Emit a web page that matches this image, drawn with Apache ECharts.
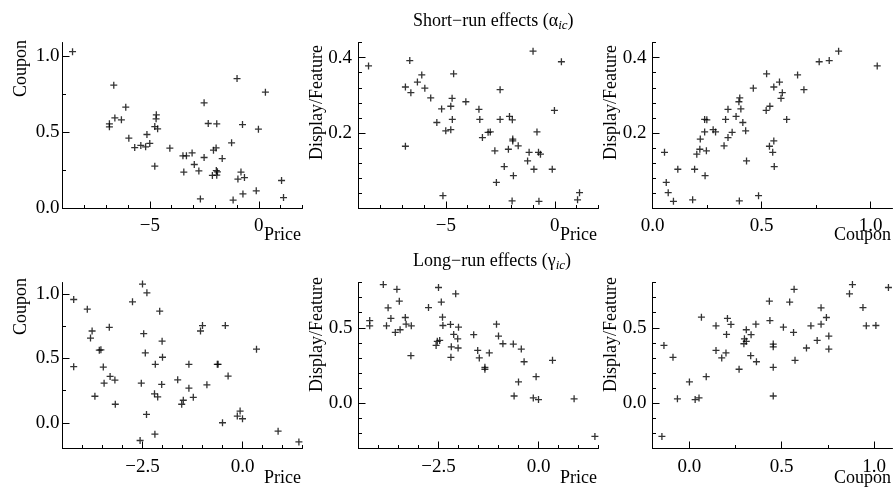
<!DOCTYPE html>
<html>
<head>
<meta charset="utf-8">
<script src="https://cdn.jsdelivr.net/npm/echarts@6.0.0/dist/echarts.min.js"></script>
<style>
  body { margin: 0; background: #fff; }
  #main { width: 893px; height: 487px; }
</style>
</head>
<body>
<div id="main"></div>
<script>
// short-run effects (alpha_ic), one entry per item
var srPrice = [-8.54, -6.65, -6.85, -6.85, -6.60, -6.30, -6.10, -5.96, -5.69, -5.41,
  -5.19, -5.13, -5.00, -4.77, -4.77, -4.70, -4.71, -4.64, -4.08, -3.48,
  -3.44, -3.32, -3.06, -2.96, -2.75, -2.68, -2.51, -2.51, -2.32, -2.13,
  -2.08, -1.96, -1.95, -1.93, -1.93, -1.90, -1.68, -1.25, -1.18, -1.00,
  -0.96, -0.82, -0.75, -0.73, -0.66, -0.12, -0.02, 0.30, 1.04, 1.13];
var srCoupon = [1.03, 0.81, 0.556, 0.536, 0.595, 0.582, 0.665, 0.462, 0.40, 0.414,
  0.405, 0.486, 0.427, 0.538, 0.278, 0.615, 0.589, 0.523, 0.396, 0.346,
  0.239, 0.346, 0.365, 0.289, 0.247, 0.063, 0.694, 0.335, 0.558, 0.217,
  0.383, 0.398, 0.249, 0.219, 0.556, 0.241, 0.328, 0.431, 0.055, 0.853,
  0.193, 0.239, 0.551, 0.096, 0.203, 0.116, 0.521, 0.764, 0.184, 0.072];
var srDisplay = [0.378, 0.392, 0.322, 0.165, 0.307, 0.335, 0.354, 0.319, 0.293, 0.228,
  0.264, 0.034, 0.206, 0.271, 0.209, 0.236, 0.292, 0.357, 0.283, 0.263,
  0.236, 0.188, 0.202, 0.203, 0.153, 0.069, 0.315, 0.236, 0.111, 0.157,
  0.244, 0.020, 0.235, 0.184, 0.179, 0.087, 0.166, 0.126, 0.149, 0.417,
  0.104, 0.203, 0.149, 0.019, 0.144, 0.104, 0.260, 0.389, 0.023, 0.042];

// long-run effects (gamma_ic)
var lrPrice = [-4.22, -4.22, -3.88, -3.80, -3.76, -3.69, -3.58, -3.54, -3.48, -3.46,
  -3.33, -3.31, -3.19, -3.18, -2.75, -2.56, -2.53, -2.50, -2.47, -2.43,
  -2.40, -2.39, -2.20, -2.19, -2.18, -2.12, -2.07, -2.02, -2.01, -2.00,
  -1.62, -1.52, -1.48, -1.34, -1.34, -1.23, -1.05, -1.00, -0.89, -0.63,
  -0.61, -0.50, -0.43, -0.36, -0.13, -0.06, 0.00, 0.35, 0.89, 1.41];
var lrCoupon = [0.958, 0.436, 0.883, 0.658, 0.713, 0.206, 0.564, 0.567, 0.433, 0.308,
  0.742, 0.360, 0.332, 0.144, 0.940, -0.138, 0.308, 1.078, 0.692, 0.543,
  0.065, 1.010, 0.225, -0.089, 0.454, 0.201, 0.867, 0.298, 0.634, 0.509,
  0.334, 0.144, 0.175, 0.269, 0.454, 0.198, 0.713, 0.755, 0.295, 0.454,
  0.454, 0.000, 0.755, 0.363, 0.052, 0.091, 0.031, 0.572, -0.065, -0.149];
var lrDisplay = [0.513, 0.548, 0.786, 0.513, 0.632, 0.562, 0.469, 0.755, 0.676, 0.487,
  0.568, 0.524, 0.315, 0.513, 0.634, 0.383, 0.410, 0.767, 0.416, 0.670,
  0.570, 0.515, 0.522, 0.304, 0.374, 0.456, 0.725, 0.427, 0.366, 0.504,
  0.454, 0.350, 0.300, 0.225, 0.238, 0.333, 0.524, 0.445, 0.394, 0.392,
  0.048, 0.141, 0.359, 0.275, 0.035, 0.176, 0.024, 0.284, 0.029, -0.220];

// tick values (labelled majors, unlabelled minors)
var srPriceTicks = [-5, 0];
var srPriceMinor = [-9, -8, -7, -6, -4, -3, -2, -1, 1, 2];
var srCouponTicks = [0, 0.5, 1];
var srCouponMinor = [0.25, 0.75];
var srDisplayTicks = [0.2, 0.4];
var srDisplayMinor = [0.04, 0.08, 0.12, 0.16, 0.24, 0.28, 0.32, 0.36, 0.44];
var lrPriceTicks = [-2.5, 0];
var lrPriceMinor = [-4.5, -4, -3.5, -3, -2, -1.5, -1, -0.5, 0.5, 1, 1.5];
var lrCouponTicks = [0, 0.5, 1];
var lrCouponMinor = [0.25, 0.75];
var lrDisplayTicks = [0, 0.5];
var lrDisplayMinor = [-0.2, -0.1, 0.1, 0.2, 0.3, 0.4, 0.6, 0.7, 0.8];

var FONT = '"Liberation Serif", "DejaVu Serif", serif';

function pairs(xs, ys) {
  var out = [];
  for (var i = 0; i < xs.length; i++) out.push([xs[i], ys[i]]);
  return out;
}

function fmt(dec) {
  return function (v) {
    var s = v.toFixed(dec);
    if (s.charAt(0) === '-') s = '\u2212' + s.slice(1);
    return s;
  };
}

// panels: grid box, axes and label offsets
var panels = [
  {left: 62.5, top: 42.5, xr: [-9, 2], xt: srPriceTicks, xm: srPriceMinor, xd: 0,
   yr: [0, 1.09], yt: srCouponTicks, ym: srCouponMinor, yd: 1, ylm: 3, yEnd: 40,
   data: pairs(srPrice, srCoupon), xname: 'Price', yname: 'Coupon'},
  {left: 358.5, top: 42.5, xr: [-9, 2], xt: srPriceTicks, xm: srPriceMinor, xd: 0,
   yr: [0, 0.44], yt: srDisplayTicks, ym: srDisplayMinor, yd: 1, ylm: 6.5, yEnd: 45,
   data: pairs(srPrice, srDisplay), xname: 'Price', yname: 'Display/Feature'},
  {left: 652.5, top: 42.5, xr: [0, 1.1], xt: srCouponTicks, xm: srCouponMinor, xd: 1,
   yr: [0, 0.44], yt: srDisplayTicks, ym: srDisplayMinor, yd: 1, ylm: 6, yEnd: 45,
   data: pairs(srCoupon, srDisplay), xname: 'Coupon', yname: 'Display/Feature'},
  {left: 62.5, top: 282.5, xr: [-4.5, 1.5], xt: lrPriceTicks, xm: lrPriceMinor, xd: 1,
   yr: [-0.2, 1.09], yt: lrCouponTicks, ym: lrCouponMinor, yd: 1, ylm: 3, yEnd: 278,
   data: pairs(lrPrice, lrCoupon), xname: 'Price', yname: 'Coupon'},
  {left: 358.5, top: 282.5, xr: [-4.5, 1.5], xt: lrPriceTicks, xm: lrPriceMinor, xd: 1,
   yr: [-0.3, 0.8], yt: lrDisplayTicks, ym: lrDisplayMinor, yd: 1, ylm: 6, yEnd: 277,
   data: pairs(lrPrice, lrDisplay), xname: 'Price', yname: 'Display/Feature'},
  {left: 652.5, top: 282.5, xr: [-0.2, 1.1], xt: lrCouponTicks, xm: lrCouponMinor, xd: 1,
   yr: [-0.3, 0.8], yt: lrDisplayTicks, ym: lrDisplayMinor, yd: 1, ylm: 6, yEnd: 277,
   data: pairs(lrCoupon, lrDisplay), xname: 'Coupon', yname: 'Display/Feature'}
];
var W = 240, H = 166;

function axes(dim, g, range, major, minor, dec, margin) {
  var pos = dim === 'x' ? 'bottom' : 'left';
  var main = {
    type: 'value', gridIndex: g, position: pos, min: range[0], max: range[1],
    axisLine: {show: true, onZero: false, lineStyle: {color: '#000', width: 1}},
    axisTick: {show: true, inside: true, length: 7, customValues: major, lineStyle: {color: '#000', width: 1}},
    axisLabel: {show: true, customValues: major, margin: margin, formatter: fmt(dec),
      fontFamily: FONT, fontSize: 19, color: '#000'},
    splitLine: {show: false}
  };
  var sub = {
    type: 'value', gridIndex: g, position: pos, min: range[0], max: range[1],
    axisLine: {show: false, onZero: false},
    axisTick: {show: true, inside: true, length: 3.5, customValues: minor, lineStyle: {color: '#000', width: 1}},
    axisLabel: {show: false},
    splitLine: {show: false}
  };
  return [main, sub];
}

var grid = [], xAxis = [], yAxis = [], series = [], graphic = [];
panels.forEach(function (p, i) {
  var top = i < 3;
  grid.push({left: p.left, top: p.top, width: W, height: H, outerBoundsMode: 'none'});
  xAxis = xAxis.concat(axes('x', i, p.xr, p.xt, p.xm, p.xd, top ? 8 : 9));
  yAxis = yAxis.concat(axes('y', i, p.yr, p.yt, p.ym, p.yd, p.ylm));
  series.push({
    type: 'scatter', xAxisIndex: 2 * i, yAxisIndex: 2 * i, data: p.data,
    symbol: 'path://M0,4H8M4,0V8', symbolSize: 7,
    itemStyle: {color: 'none', borderColor: '#000', borderWidth: 1.3},
    emphasis: {disabled: true}, silent: true
  });
  // axis names
  graphic.push({
    type: 'text', x: p.left + W - 1.5, y: p.top + H + (top ? 18 : 21),
    style: {text: p.xname, font: '18px ' + FONT, fill: '#000',
      align: 'right', textAlign: 'right', verticalAlign: 'top', textVerticalAlign: 'top'}
  });
  graphic.push({
    type: 'text', x: p.left - 32.5, y: p.yEnd, rotation: Math.PI / 2,
    style: {text: p.yname, font: '18px ' + FONT, fill: '#000',
      align: 'right', textAlign: 'right', verticalAlign: 'bottom', textVerticalAlign: 'bottom'}
  });
});

var rich = {
  n: {fontFamily: FONT, fontSize: 18, color: '#000', verticalAlign: 'middle'},
  s: {fontFamily: FONT, fontSize: 13, fontStyle: 'italic', color: '#000', verticalAlign: 'middle', padding: [9, 0, 0, 0]}
};

var chart = echarts.init(document.getElementById('main'));
chart.setOption({
  animation: false,
  backgroundColor: '#fff',
  title: [
    {left: 413, top: 10, padding: 0, text: '{n|Short\u2212run effects (\u03b1}{s|ic}{n|)}',
     textStyle: {fontFamily: FONT, fontSize: 18, fontWeight: 'normal', color: '#000', rich: rich}},
    {left: 413, top: 250, padding: 0, text: '{n|Long\u2212run effects (\u03b3}{s|ic}{n|)}',
     textStyle: {fontFamily: FONT, fontSize: 18, fontWeight: 'normal', color: '#000', rich: rich}}
  ],
  grid: grid,
  xAxis: xAxis,
  yAxis: yAxis,
  series: series,
  graphic: graphic
});
</script>
</body>
</html>
